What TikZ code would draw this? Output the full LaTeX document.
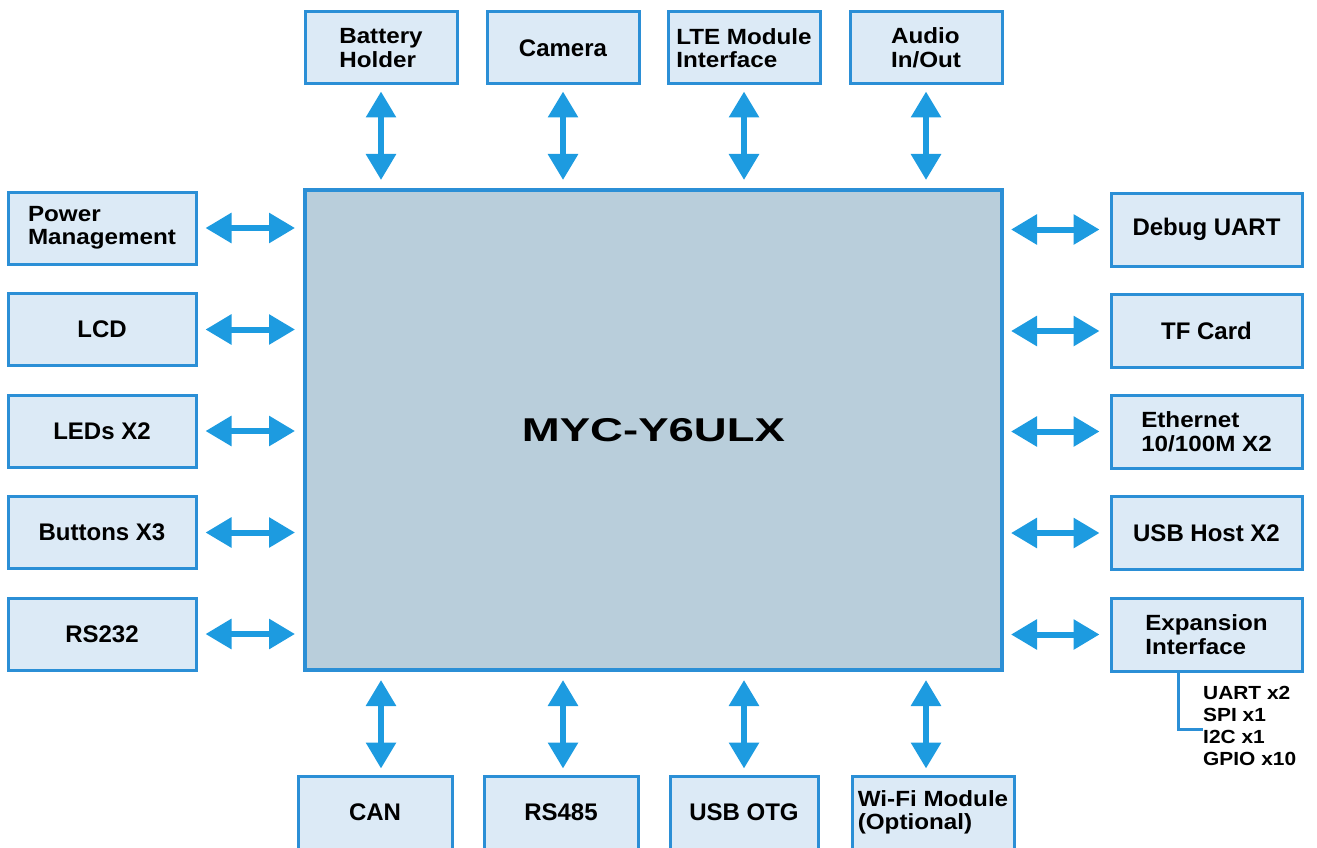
\documentclass[tikz,border=0pt]{standalone}
\usepackage{fontspec}
\setmainfont{Liberation Sans}
\newfontfamily\widefont[FakeStretch=1.1]{Liberation Sans}
\newfontfamily\chipfont[FakeStretch=1.38]{Liberation Sans}
\usetikzlibrary{arrows.meta}
\definecolor{boxfill}{HTML}{DCEAF6}
\definecolor{boxline}{HTML}{2B8FD6}
\definecolor{chipfill}{HTML}{B9CEDB}
\definecolor{linkblue}{HTML}{1D9BE0}
\begin{document}
\begin{tikzpicture}[x=1pt, y=-1pt,
  unit/.style={draw=boxline, line width=3pt, fill=boxfill, inner sep=0pt, align=left,
    font=\fontsize{24}{26}\selectfont\bfseries},
  twoline/.style={font=\widefont\fontsize{22}{23.5}\selectfont\bfseries},
  topbox/.style={unit, minimum width=152pt, minimum height=72pt},
  leftbox/.style={unit, minimum width=188pt, minimum height=72pt},
  rightbox/.style={unit, minimum width=191pt, minimum height=73pt},
  botbox/.style={unit, minimum height=73pt},
  chip/.style={draw=boxline, line width=4pt, fill=chipfill, minimum width=697pt, minimum height=480pt,
    font=\chipfont\fontsize{33}{36}\selectfont\bfseries},
  link/.style={linkblue, line width=6pt, {Triangle[width=29pt,length=26pt]}-{Triangle[width=29pt,length=26pt]}},
  bracket/.style={boxline, line width=3pt},
  sublist/.style={inner sep=0pt, align=left, font=\widefont\fontsize{19}{22}\selectfont\bfseries}]
  \clip (0,0) rectangle (1317,848);
  % core module
  \node[chip] (soc) at (653.5,430) {MYC-Y6ULX};
  % top row
  \node[topbox, twoline] (battery) at (381,48) {Battery\\Holder};
  \node[topbox] (camera) at (563,48) {Camera};
  \node[topbox, twoline] (lte) at (744,48) {LTE Module\\Interface};
  \node[topbox, twoline] (audio) at (926,48) {Audio\\In/Out};
  % left column
  \node[leftbox, twoline] (power) at (102,228) {Power\\Management};
  \node[leftbox] (lcd) at (102,329.5) {LCD};
  \node[leftbox] (leds) at (102,431) {LEDs X2};
  \node[leftbox] (buttons) at (102,532.5) {Buttons X3};
  \node[leftbox] (rs232) at (102,634) {RS232};
  % right column
  \node[rightbox] (debug) at (1206.5,229.5) {Debug UART};
  \node[rightbox] (tf) at (1206.5,331) {TF Card};
  \node[rightbox, twoline] (eth) at (1206.5,431.5) {Ethernet\\10/100M X2};
  \node[rightbox] (usbh) at (1206.5,533) {USB Host X2};
  \node[rightbox, twoline] (exp) at (1206.5,634.5) {Expansion\\Interface};
  % bottom row
  \node[botbox, minimum width=154pt] (can) at (375,812.5) {CAN};
  \node[botbox, minimum width=154pt] (rs485) at (561,812.5) {RS485};
  \node[botbox, minimum width=148pt] (otg) at (744,812.5) {USB OTG};
  \node[botbox, twoline, minimum width=162pt] (wifi) at (933,812.5) {Wi-Fi Module\\(Optional)};
  % expansion signals
  \node[sublist, anchor=north west] (explist) at (1203,686) {UART x2\\SPI x1\\I2C x1\\GPIO x10};
  \draw[bracket] ([xshift=-28pt]exp.south) |- ([yshift=-4pt]explist.west);
  % links
  \draw[link, shorten <=6pt, shorten >=8pt] (battery.south) -- (battery.south |- soc.north);
  \draw[link, shorten <=6pt, shorten >=8pt] (camera.south) -- (camera.south |- soc.north);
  \draw[link, shorten <=6pt, shorten >=8pt] (lte.south) -- (lte.south |- soc.north);
  \draw[link, shorten <=6pt, shorten >=8pt] (audio.south) -- (audio.south |- soc.north);
  \draw[link, shorten <=8pt, shorten >=8pt] (power.east) -- (power.east -| soc.west);
  \draw[link, shorten <=8pt, shorten >=8pt] (lcd.east) -- (lcd.east -| soc.west);
  \draw[link, shorten <=8pt, shorten >=8pt] (leds.east) -- (leds.east -| soc.west);
  \draw[link, shorten <=8pt, shorten >=8pt] (buttons.east) -- (buttons.east -| soc.west);
  \draw[link, shorten <=8pt, shorten >=8pt] (rs232.east) -- (rs232.east -| soc.west);
  \draw[link, shorten <=7pt, shorten >=10pt] (soc.east |- debug.west) -- (debug.west);
  \draw[link, shorten <=7pt, shorten >=10pt] (soc.east |- tf.west) -- (tf.west);
  \draw[link, shorten <=7pt, shorten >=10pt] (soc.east |- eth.west) -- (eth.west);
  \draw[link, shorten <=7pt, shorten >=10pt] (soc.east |- usbh.west) -- (usbh.west);
  \draw[link, shorten <=7pt, shorten >=10pt] (soc.east |- exp.west) -- (exp.west);
  \draw[link, shorten <=8pt, shorten >=6pt] (soc.south -| battery) -- (can.north -| battery);
  \draw[link, shorten <=8pt, shorten >=6pt] (soc.south -| camera) -- (rs485.north -| camera);
  \draw[link, shorten <=8pt, shorten >=6pt] (soc.south -| lte) -- (otg.north -| lte);
  \draw[link, shorten <=8pt, shorten >=6pt] (soc.south -| audio) -- (wifi.north -| audio);
\end{tikzpicture}
\end{document}
